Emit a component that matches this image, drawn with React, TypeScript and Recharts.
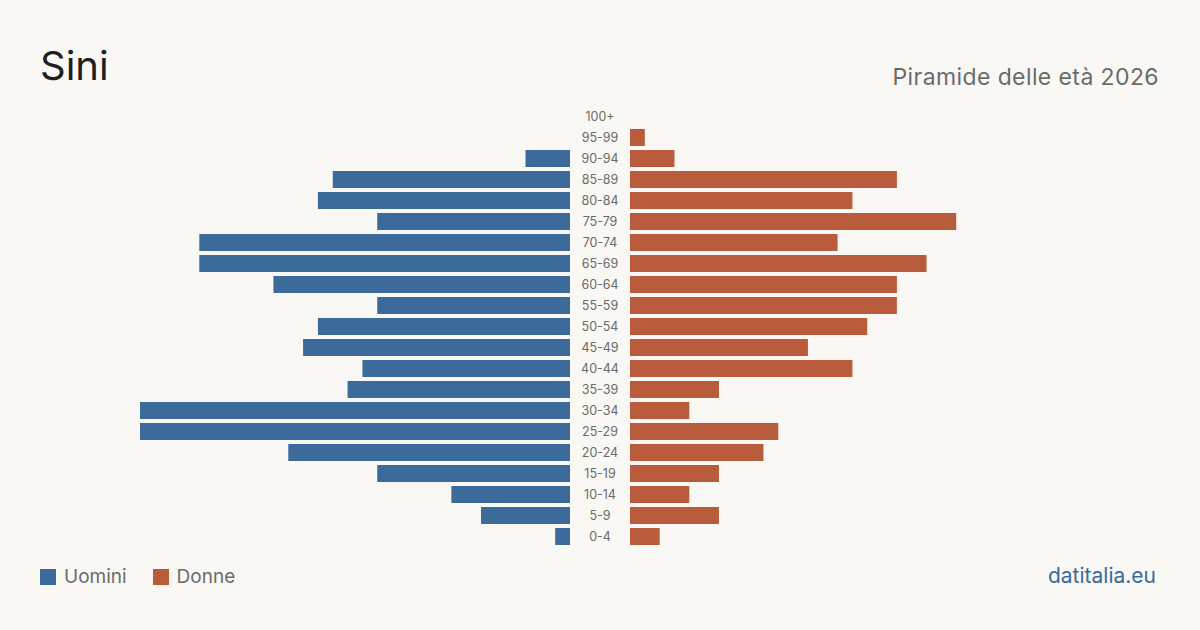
import React from "react";
import { BarChart, Bar, XAxis, YAxis } from "recharts";

const AGE_GROUPS = [
  "100+", "95-99", "90-94", "85-89", "80-84", "75-79", "70-74", "65-69", "60-64", "55-59",
  "50-54", "45-49", "40-44", "35-39", "30-34", "25-29", "20-24", "15-19", "10-14", "5-9", "0-4",
];
const MEN = [0, 0, 3, 16, 17, 13, 25, 25, 20, 13, 17, 18, 14, 15, 29, 29, 19, 13, 8, 6, 1];
const WOMEN = [0, 1, 3, 18, 15, 22, 14, 20, 18, 18, 16, 12, 15, 6, 4, 10, 9, 6, 4, 6, 2];

const MAX = Math.max(...MEN, ...WOMEN);
const BLUE = "#3b6a9b";
const ORANGE = "#b95c3c";
const FONT = "Inter, 'Noto Sans', sans-serif";

const rows = AGE_GROUPS.map((age, i) => ({ age, men: MEN[i], women: WOMEN[i] }));

const CHART_TOP = 106;
const CHART_H = 441;

export default function App() {
  return (
    <div
      style={{
        position: "fixed",
        left: 0,
        top: 0,
        width: 1200,
        height: 630,
        background: "#f9f8f4",
        fontFamily: FONT,
        overflow: "hidden",
      }}
    >
      <div style={{ position: "absolute", left: 40, top: 46, fontSize: 40, color: "#1f1f1f", lineHeight: 1 }}>
        Sini
      </div>
      <div
        style={{
          position: "absolute",
          right: 41,
          top: 66,
          fontSize: 23,
          letterSpacing: 0.4,
          color: "#6b6b6b",
          lineHeight: 1,
        }}
      >
        Piramide delle età 2026
      </div>

      {/* men, growing leftwards */}
      <div style={{ position: "absolute", left: 140, top: CHART_TOP }}>
        <BarChart
          width={430}
          height={CHART_H}
          data={rows}
          layout="vertical"
          margin={{ top: 0, right: 0, bottom: 0, left: 0 }}
          barCategoryGap={2}
        >
          <XAxis type="number" domain={[0, MAX]} reversed hide />
          <YAxis type="category" dataKey="age" hide />
          <Bar dataKey="men" fill={BLUE} isAnimationActive={false} />
        </BarChart>
      </div>

      {/* women, with the age labels in the centre gutter */}
      <div style={{ position: "absolute", left: 570, top: CHART_TOP }}>
        <BarChart
          width={490}
          height={CHART_H}
          data={rows}
          layout="vertical"
          margin={{ top: 0, right: 0, bottom: 0, left: 0 }}
          barCategoryGap={2}
        >
          <XAxis type="number" domain={[0, MAX]} hide />
          <YAxis
            type="category"
            dataKey="age"
            width={60}
            axisLine={false}
            tickLine={false}
            interval={0}
            tick={(props: any) => (
              <text
                x={30}
                y={props.y}
                textAnchor="middle"
                dominantBaseline="central"
                fontSize={12.5}
                fill="#6b6b6b"
                fontFamily={FONT}
              >
                {props.payload.value}
              </text>
            )}
          />
          <Bar dataKey="women" fill={ORANGE} isAnimationActive={false} />
        </BarChart>
      </div>

      <div
        style={{
          position: "absolute",
          left: 40,
          top: 567,
          display: "flex",
          alignItems: "center",
          fontSize: 19,
          color: "#6b6b6b",
          lineHeight: 1,
        }}
      >
        <span style={{ width: 16, height: 16, background: BLUE, marginRight: 8 }} />
        <span style={{ marginRight: 26 }}>Uomini</span>
        <span style={{ width: 16, height: 16, background: ORANGE, marginRight: 8 }} />
        <span>Donne</span>
      </div>
      <div
        style={{ position: "absolute", right: 44, top: 565, fontSize: 21, color: BLUE, lineHeight: 1 }}
      >
        datitalia.eu
      </div>
    </div>
  );
}
